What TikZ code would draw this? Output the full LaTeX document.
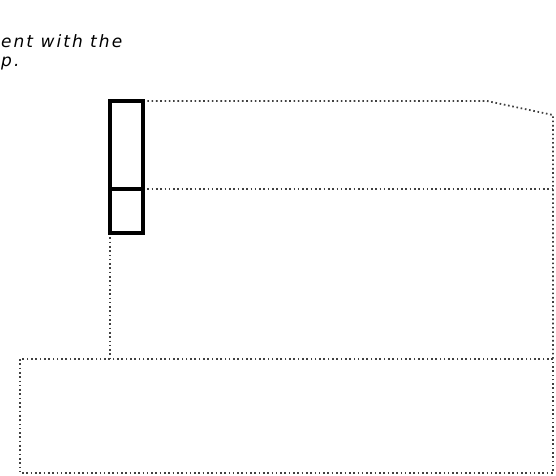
\documentclass[tikz,border=0pt]{standalone}
\usepackage{fontspec}
\newfontfamily\notefont[LetterSpace=12]{DejaVu Sans}
\tikzset{
  dots/.style={line width=1.8pt, dash pattern=on 1.6pt off 2.7pt, black!75},
  heavy/.style={line width=3.4pt, line cap=rect},
  note/.style={anchor=base west, inner sep=0pt, font=\notefont\itshape\fontsize{17}{20}\selectfont}
}
\begin{document}
\begin{tikzpicture}[x=1pt,y=-1pt]
\useasboundingbox (0,0) rectangle (556,475);
\fill[white] (0,0) rectangle (556,475);
% coordinates
\coordinate (bl) at (110,233);
\coordinate (tl) at (110,101);
\coordinate (tr) at (143,101);
\coordinate (br) at (143,233);
\coordinate (ml) at (110,189);
\coordinate (mr) at (143,189);
\coordinate (bend) at (487,101);
\coordinate (corner) at (553,115);
\coordinate (midR) at (553,189);
\coordinate (lowL) at (110,359);
\coordinate (rA) at (20,359);
\coordinate (rB) at (553,473);
% dotted outlines
\draw[dots] (tr) -- (bend) -- (corner) -- (553,359);
\draw[dots] (mr) -- (midR);
\draw[dots] (bl) -- (lowL);
\draw[dots] (rA) rectangle (rB);
% thick element
\draw[heavy] (tl) rectangle (br);
\draw[heavy] (ml) -- (mr);
% text
\node[note] (t1) at (1,47) {ent with the};
\node[note] (t2) at (1,66) {p.};
\end{tikzpicture}
\end{document}
